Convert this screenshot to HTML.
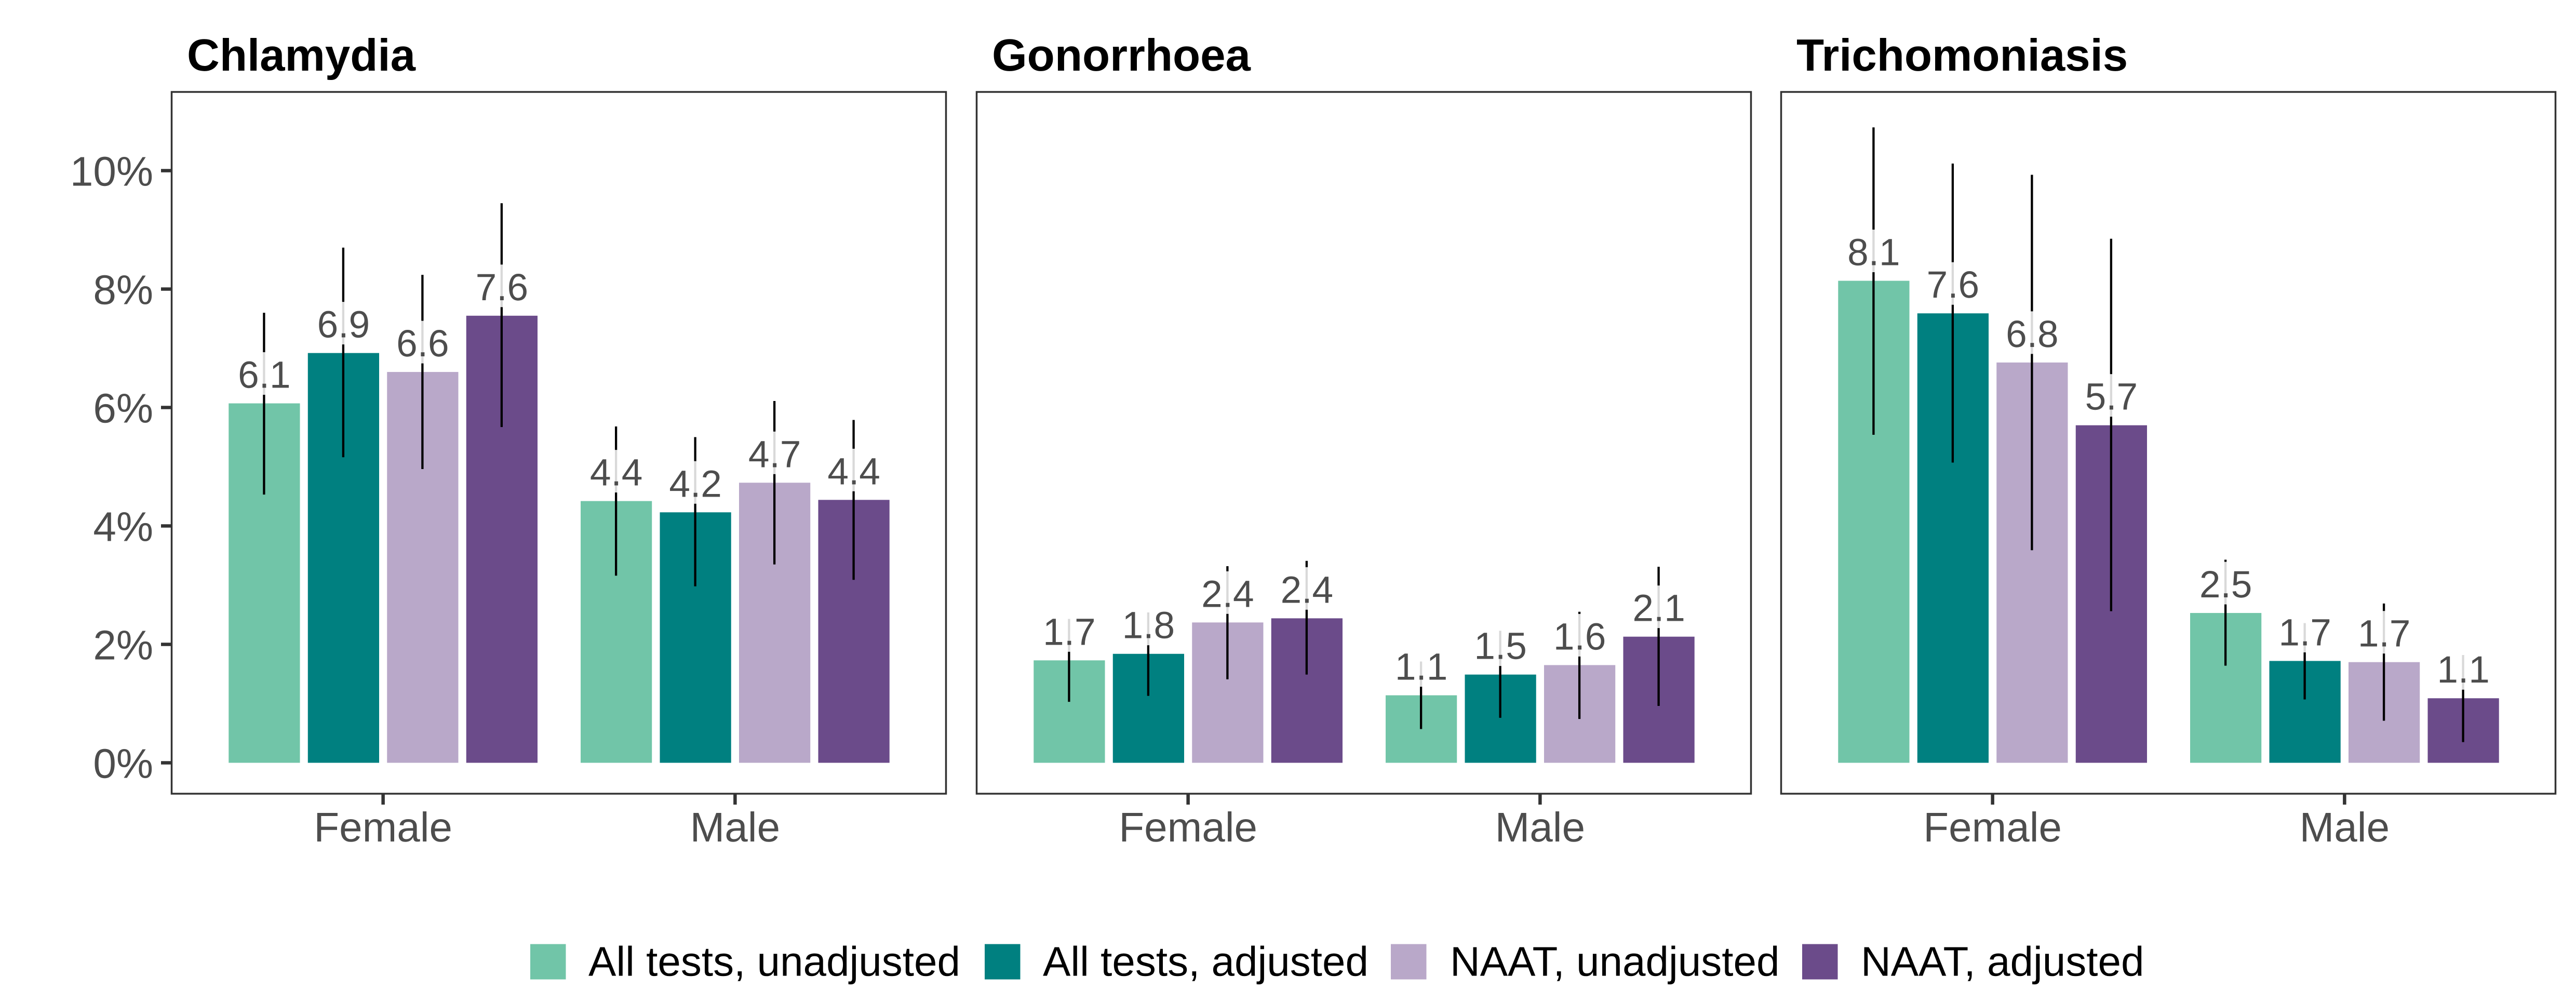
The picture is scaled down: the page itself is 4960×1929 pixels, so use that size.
<!DOCTYPE html>
<html lang="en">
<head>
<meta charset="utf-8">
<title>STI prevalence by sex and test type</title>
<style>
html,body{margin:0;padding:0;background:#fff;}
svg{display:block;font-family:"Liberation Sans",Arial,sans-serif;text-rendering:geometricPrecision;}
</style>
</head>
<body>
<svg id="chart" xmlns="http://www.w3.org/2000/svg" width="4960" height="1929" viewBox="0 0 4960 1929">
<rect x="0" y="0" width="4960" height="1929" fill="#ffffff"/>
</svg>
<script>
const categories = ["Female", "Male"];
const seriesNames = ["All tests, unadjusted", "All tests, adjusted", "NAAT, unadjusted", "NAAT, adjusted"];
const yTicks = [0, 2, 4, 6, 8, 10];
const yTickLabels = ["0%", "2%", "4%", "6%", "8%", "10%"];
const panelTitles = ["Chlamydia", "Gonorrhoea", "Trichomoniasis"];

const chlamydiaEstimate = [6.07, 6.92, 6.60, 7.55, 4.42, 4.23, 4.73, 4.44];
const chlamydiaLower = [4.53, 5.16, 4.96, 5.67, 3.16, 2.98, 3.35, 3.09];
const chlamydiaUpper = [7.60, 8.70, 8.24, 9.45, 5.68, 5.50, 6.11, 5.79];
const chlamydiaLabels = ["6.1", "6.9", "6.6", "7.6", "4.4", "4.2", "4.7", "4.4"];

const gonorrhoeaEstimate = [1.73, 1.84, 2.37, 2.44, 1.14, 1.49, 1.65, 2.13];
const gonorrhoeaLower = [1.03, 1.13, 1.41, 1.49, 0.57, 0.76, 0.74, 0.96];
const gonorrhoeaUpper = [2.43, 2.54, 3.32, 3.41, 1.71, 2.23, 2.55, 3.31];
const gonorrhoeaLabels = ["1.7", "1.8", "2.4", "2.4", "1.1", "1.5", "1.6", "2.1"];

const trichomoniasisEstimate = [8.14, 7.59, 6.76, 5.70, 2.53, 1.72, 1.70, 1.09];
const trichomoniasisLower = [5.54, 5.07, 3.59, 2.56, 1.64, 1.07, 0.71, 0.35];
const trichomoniasisUpper = [10.73, 10.12, 9.93, 8.85, 3.43, 2.36, 2.69, 1.82];
const trichomoniasisLabels = ["8.1", "7.6", "6.8", "5.7", "2.5", "1.7", "1.7", "1.1"];

const NS = "http://www.w3.org/2000/svg";
const svg = document.getElementById("chart");
const seriesColors = ["#71C5A8", "#008080", "#B9A8C9", "#6B4B8A"];
const seriesSlugs = ["all-tests-unadjusted", "all-tests-adjusted", "naat-unadjusted", "naat-adjusted"];
const panelLeft = [331, 1881, 3430];
const panelWidth = 1491;
const panelTop = 177;
const panelBottom = 1528;

function yScale(v) { return 1468.5 - 114 * v; }
function xScale(left, catIndex) { return left + panelWidth * (0.6 + catIndex) / 2.2; }
function dodge(seriesIndex) { return (seriesIndex - 1.5) * 0.225 * panelWidth / 2.2; }
const barWidth = 0.2025 * panelWidth / 2.2;

function make(tag, attrs, parent) {
  const el = document.createElementNS(NS, tag);
  for (const k in attrs) el.setAttribute(k, attrs[k]);
  parent.appendChild(el);
  return el;
}

function drawPanel(p, slug, estimate, lower, upper, labels) {
  const left = panelLeft[p];
  const g = make("g", {}, svg);
  
  

  const title = make("text", {x: left + 29, y: 136, "font-size": 87, "font-weight": "bold", fill: "#000"}, g);
  title.textContent = panelTitles[p];
  
  

  categories.forEach((cat, c) => {
    seriesNames.forEach((s, i) => {
      const k = c * seriesNames.length + i;
      const cx = xScale(left, c) + dodge(i);
      const bar = make("rect", {
        x: cx - barWidth / 2, y: yScale(estimate[k]),
        width: barWidth, height: yScale(0) - yScale(estimate[k]), fill: seriesColors[i]
      }, g);
      
      
    });
  });

  categories.forEach((cat, c) => {
    seriesNames.forEach((s, i) => {
      const k = c * seriesNames.length + i;
      const cx = xScale(left, c) + dodge(i);
      const err = make("line", {
        x1: cx - 0.5, x2: cx - 0.5, y1: yScale(lower[k]), y2: yScale(upper[k]),
        stroke: "#000", "stroke-width": 4.3
      }, g);
      
      

      const y = yScale(estimate[k]);
      const box = make("rect", {
        x: cx - 58, y: y - 98.5, width: 116, height: 82, fill: "#ffffff", "fill-opacity": 0.85
      }, g);
      
      

      const txt = make("text", {
        x: cx, y: y - 30, "font-size": 73, "text-anchor": "middle", fill: "#4D4D4D"
      }, g);
      txt.textContent = labels[k];
      
      
    });
  });

  const border = make("rect", {
    x: left - 0.5, y: panelTop, width: panelWidth, height: panelBottom - panelTop,
    fill: "none", stroke: "#333333", "stroke-width": 3.5
  }, g);
  
  

  categories.forEach((cat, c) => {
    const x = xScale(left, c);
    const tick = make("line", {x1: x, x2: x, y1: panelBottom, y2: 1549, stroke: "#333333", "stroke-width": 6.5}, g);
    
    

    const lab = make("text", {x: x, y: 1620, "font-size": 80, "text-anchor": "middle", fill: "#4D4D4D"}, g);
    lab.textContent = cat;
    
    
  });
}

drawPanel(0, "chlamydia", chlamydiaEstimate, chlamydiaLower, chlamydiaUpper, chlamydiaLabels);
drawPanel(1, "gonorrhoea", gonorrhoeaEstimate, gonorrhoeaLower, gonorrhoeaUpper, gonorrhoeaLabels);
drawPanel(2, "trichomoniasis", trichomoniasisEstimate, trichomoniasisLower, trichomoniasisUpper, trichomoniasisLabels);

yTicks.forEach((t, i) => {
  const y = yScale(t);
  const tick = make("line", {x1: 310, x2: 330, y1: y, y2: y, stroke: "#333333", "stroke-width": 6.5}, svg);
  
  

  const lab = make("text", {x: 295, y: y + 29, "font-size": 80, "text-anchor": "end", fill: "#4D4D4D"}, svg);
  lab.textContent = yTickLabels[i];
  
  
});

const legendSwatchX = [1021, 1896, 2678, 3470];
const legendTextX = [1133, 2008, 2792, 3583];
seriesNames.forEach((s, i) => {
  const sw = make("rect", {x: legendSwatchX[i], y: 1817.5, width: 68.5, height: 68, fill: seriesColors[i]}, svg);
  
  

  const t = make("text", {x: legendTextX[i], y: 1878.5, "font-size": 80, fill: "#000"}, svg);
  t.textContent = s;
  
  
});
</script>
</body>
</html>
